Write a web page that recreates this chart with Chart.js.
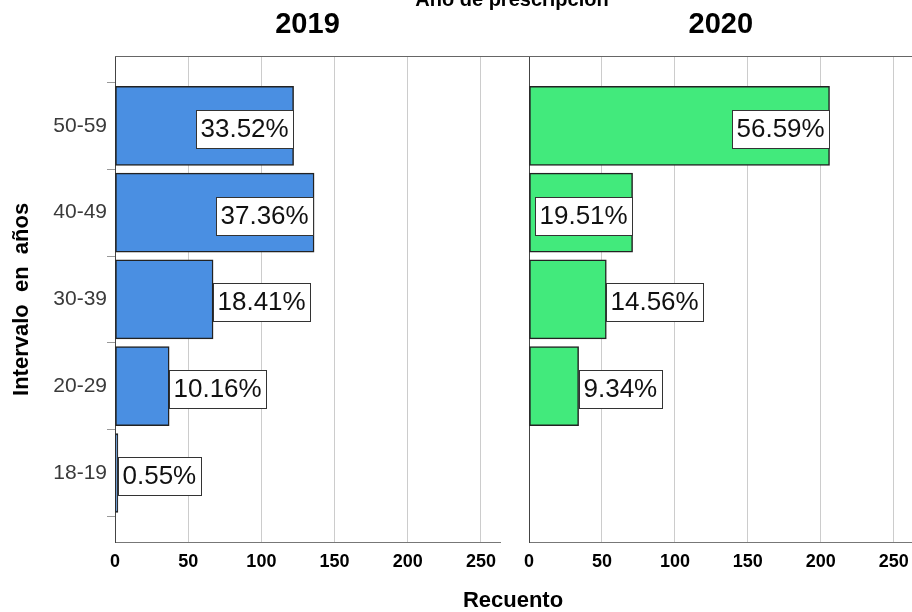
<!DOCTYPE html>
<html><head><meta charset="utf-8">
<script src="https://cdn.jsdelivr.net/npm/chart.js@4/dist/chart.umd.min.js"></script>
<style>
html,body{margin:0;padding:0;background:#fff;}
#wrap{position:relative;width:912px;height:612px;overflow:hidden;font-family:"Liberation Sans",Arial,sans-serif;}
#cA{position:absolute;left:0;top:0;}
#cB{position:absolute;left:515px;top:0;}
.t{position:absolute;white-space:nowrap;font-weight:bold;color:#000;text-align:center;}
#frameTop{position:absolute;left:115px;top:56px;width:797px;height:1px;background:#666;}
</style></head>
<body><div id="wrap">
<canvas id="cA" width="510" height="612"></canvas>
<canvas id="cB" width="403" height="612"></canvas>
<div id="frameTop"></div>
<div class="t" style="left:0;width:1024px;top:-11px;font-size:20px;line-height:20px;">Año de prescripción</div>
<div class="t" style="left:0;width:1026px;top:589px;font-size:22px;line-height:22px;">Recuento</div>
</div>
<script>
const categories = ['50-59','40-49','30-39','20-29','18-19'];
const counts2019 = [122,136,67,37,2];
const counts2020 = [206,71,53,34,0];
const pct2019 = [33.52,37.36,18.41,10.16,0.55];
const pct2020 = [56.59,19.51,14.56,9.34,0];
const panelTitles = ['2019','2020'];
const xTicks = [0,50,100,150,200,250];
const yTitle = 'Intervalo  en  años';

const F = '"Liberation Sans", Arial, sans-serif';

const boxLabels = {
  id:'boxLabels',
  afterDatasetsDraw(chart){
    const ctx = chart.ctx;
    const ds = chart.data.datasets[0];
    const meta = chart.getDatasetMeta(0);
    ctx.save();
    ctx.font = '26px ' + F;
    ctx.textBaseline = 'middle';
    ctx.textAlign = 'left';
    meta.data.forEach((bar,i)=>{
      const p = ds.pcts[i];
      if (!p) return;
      const txt = p.toFixed(2) + '%';
      const tw = ctx.measureText(txt).width;
      const bw = Math.round(tw + 9), bh = 38;
      const len = bar.x - bar.base;
      const left = Math.round(len >= bw + 2 ? bar.x - 1 - bw : bar.x);
      const top = Math.round(bar.y + 3 - bh/2);
      ctx.fillStyle = '#fff';
      ctx.fillRect(left, top, bw, bh);
      ctx.strokeStyle = '#333';
      ctx.lineWidth = 1;
      ctx.strokeRect(left + 0.5, top + 0.5, bw, bh);
      ctx.fillStyle = '#111';
      ctx.fillText(txt, left + 4.5, top + bh/2 + 1);
    });
    ctx.restore();
  }
};

function makeChart(id, title, counts, pcts, color, showY){
  const data = counts.map((v,i)=>({x:v, y:i}));
  const yTickVals = [];
  for (let v = -0.5; v <= categories.length - 0.5; v += 0.5) yTickVals.push(v);
  return new Chart(document.getElementById(id), {
    type:'bar',
    data:{datasets:[{data, pcts, backgroundColor:color, borderColor:'#222', borderWidth:1.5, borderSkipped:false, barThickness:79}]},
    options:{
      indexAxis:'y', responsive:false, animation:false, devicePixelRatio:1,
      layout:{padding:{left:0, right: showY ? 10 : 0, top:0, bottom:0}},
      plugins:{
        legend:{display:false}, tooltip:{enabled:false},
        title:{display:true, text:title, fullSize:false, color:'#000',
          font:{family:F, size:29, weight:'bold'}, padding:{top:8, bottom:14}}
      },
      scales:{
        x:{type:'linear', min:0, max:263,
          afterBuildTicks:s=>{ s.ticks = xTicks.map(v=>({value:v})); },
          ticks:{font:{family:F, size:18, weight:'bold'}, color:'#000', padding:9, maxRotation:0, autoSkip:false, includeBounds:false},
          grid:{color:'#cccccc', drawTicks:false, lineWidth:1},
          border:{color:'#777'},
          afterFit:s=>{ s.height = 70; }
        },
        y:{type:'linear', reverse:true, offset:false, min:-0.795, max:categories.length - 0.205,
          afterBuildTicks:s=>{ s.ticks = yTickVals.map(v=>({value:v})); },
          ticks:{display:showY, autoSkip:false, padding:0, color:'#3a3a3a',
            font:{family:F, size:21},
            callback:v=> Number.isInteger(v) ? categories[v] : ''},
          grid:{offset:false, drawOnChartArea:false, drawTicks:showY, tickLength:8,
            color:c=> (c.tick && Number.isInteger(c.tick.value)) ? 'rgba(0,0,0,0)' : '#999'},
          border:{color:'#444'},
          title:{display:showY, text:yTitle, color:'#000',
            font:{family:F, size:22, weight:'bold'}, padding:{top:9, bottom:0}},
          afterFit:s=>{ s.width = showY ? 115 : 13; }
        }
      }
    },
    plugins:[boxLabels]
  });
}

makeChart('cA', panelTitles[0], counts2019, pct2019, '#4a8fe2', true);
makeChart('cB', panelTitles[1], counts2020, pct2020, '#42ea7c', false);
</script>
</body></html>
